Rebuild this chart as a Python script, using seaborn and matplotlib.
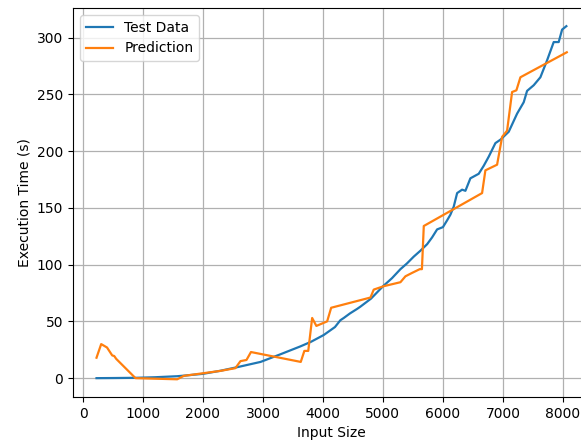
import matplotlib
matplotlib.use("Agg")
import matplotlib.pyplot as plt
import pandas as pd
import seaborn as sns

# Test data
test_size = [225, 500, 875, 1200, 1570, 1680, 2000, 2290, 2600, 2960, 3290, 3625,
             3800, 4013, 4200, 4290, 4347, 4450, 4570, 4625, 4800, 5003, 5150, 5292,
             5400, 5513, 5620, 5737, 5820, 5903, 6000, 6070, 6125, 6180, 6237, 6320,
             6375, 6458, 6597, 6680, 6763, 6875, 6958, 7097, 7237, 7347, 7403, 7514,
             7625, 7737, 7847, 7930, 7987, 8058]
test_time = [0, 0.1, 0.3, 0.8, 1.7, 2.2, 3.8, 6.5, 10, 14.3, 21, 28,
             32, 38, 45, 51, 53, 57, 61, 63, 70, 81, 88, 96,
             101, 107, 112, 118, 124, 131, 133, 139, 144, 151, 163, 166,
             165, 176, 180, 187, 195, 207, 210, 217, 233, 243, 253, 258,
             265, 280, 296, 296, 307, 310]

# Prediction
pred_size = [225, 303, 400, 487, 520, 553, 875, 1570, 1680, 2290, 2540, 2625, 2725,
             2800, 3630, 3690, 3755, 3820, 3890, 4070, 4137, 4792, 4847, 5014, 5292,
             5375, 5486, 5614, 5650, 5681, 6653, 6708, 6903, 6987, 7070, 7153, 7225,
             7292, 8065]
pred_time = [18, 30, 27, 20, 19.5, 17, 0, -1, 2, 6.4, 8.8, 15, 16,
             23, 14.3, 24, 24, 53, 46, 50, 62, 71, 78, 81, 84.5,
             89.7, 92.7, 96, 96, 134, 163, 183, 188, 212.5, 218, 252, 253.5,
             265, 287]

df_test = pd.DataFrame({"size": test_size, "time": test_time})
df_pred = pd.DataFrame({"size": pred_size, "time": pred_time})

fig = plt.figure(figsize=(5.81, 4.41), dpi=100)
# axes run past the right edge, as in the (cropped) reference
ax = fig.add_axes([73 / 581, 44 / 441, 517 / 581, 389 / 441])

sns.lineplot(data=df_test, x="size", y="time", ax=ax, color="#1f77b4",
             linewidth=1.6, label="Test Data")
sns.lineplot(data=df_pred, x="size", y="time", ax=ax, color="#ff7f0e",
             linewidth=1.6, label="Prediction")

ax.set_xlim(-167, 8452)
ax.set_ylim(-16.6, 326)
ax.set_xticks(range(0, 8001, 1000))
ax.set_yticks(range(0, 301, 50))
ax.grid(True, color="#b0b0b0", linewidth=0.9)
ax.set_xlabel("Input Size", fontsize=10)
ax.set_ylabel("Execution Time (s)", fontsize=10)
ax.tick_params(labelsize=10)
ax.legend(loc="upper left", fontsize=10)

fig.savefig("out.png", dpi=100)
